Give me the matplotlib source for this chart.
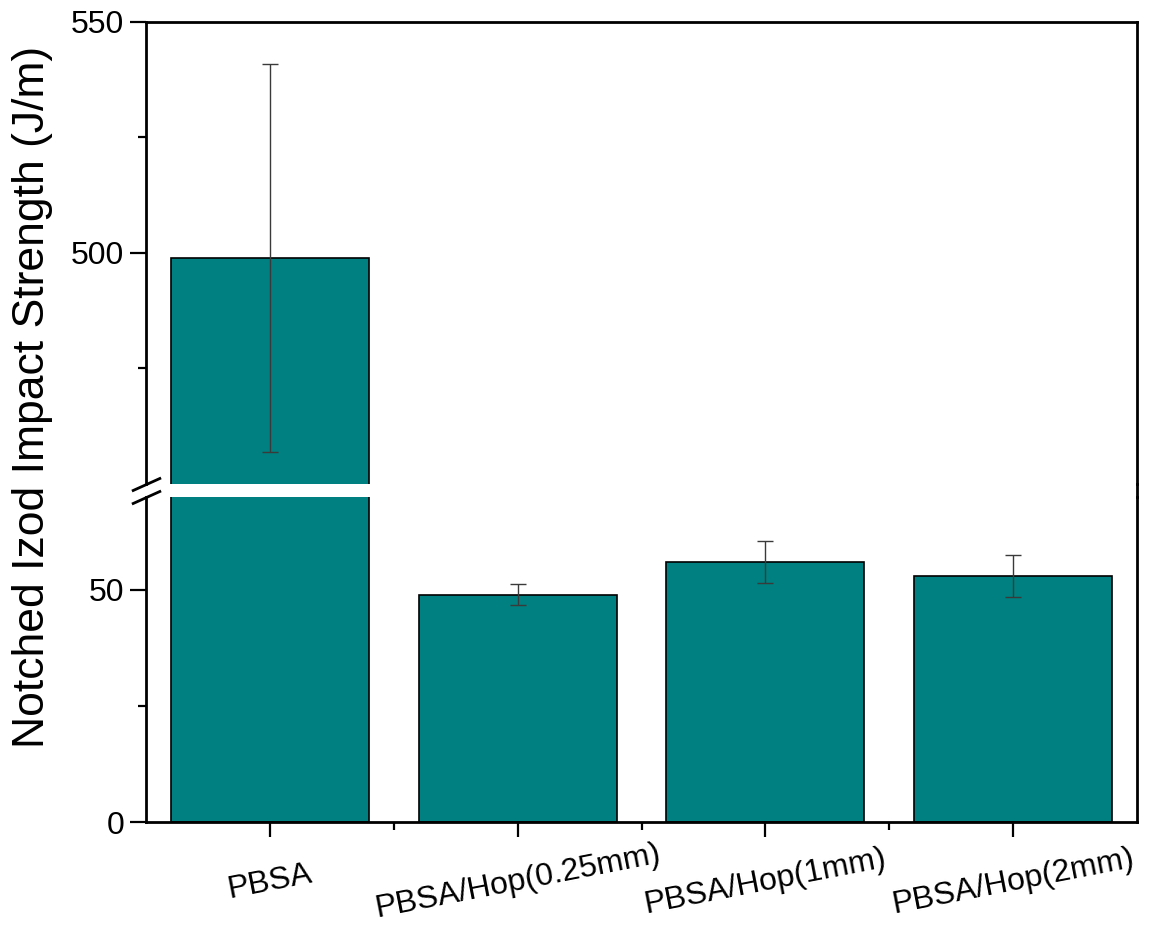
import numpy as np
import matplotlib
matplotlib.use('Agg')
import matplotlib.pyplot as plt
from matplotlib.lines import Line2D

plt.rcParams['font.family'] = ['Liberation Sans', 'DejaVu Sans']

samples = ['PBSA', 'PBSA/Hop(0.25mm)', 'PBSA/Hop(1mm)', 'PBSA/Hop(2mm)']
strength = [499, 49, 56, 53]
strength_err = [42, 2.3, 4.6, 4.5]

bar_color = '#008080'
x = np.arange(len(samples))

fig = plt.figure(figsize=(11.5, 9.25), dpi=100)
ax_top = fig.add_axes([0.12696, 0.47676, 0.86174, 0.49946])
ax_bot = fig.add_axes([0.12696, 0.11135, 0.86174, 0.35135])

for ax in (ax_top, ax_bot):
    ax.bar(x, strength, width=0.8, color=bar_color, edgecolor='black', linewidth=1.2, zorder=2)
    ax.errorbar(x, strength, yerr=strength_err, fmt='none', ecolor='#3a3a3a',
                elinewidth=1.0, capsize=6, capthick=1.0, zorder=3)
    ax.set_xlim(-0.5, 3.5)
    for s in ax.spines.values():
        s.set_linewidth(2.0)
    ax.tick_params(axis='y', which='major', direction='out', length=11.5, width=1.6,
                   labelsize=23, pad=4)
    ax.tick_params(axis='y', which='minor', direction='out', length=6, width=1.6)
    ax.tick_params(right=False, top=False)

# upper segment
ax_top.set_ylim(450, 550)
ax_top.set_yticks([500, 550])
ax_top.set_yticks([475, 525], minor=True)
ax_top.spines['bottom'].set_visible(False)
ax_top.set_xticks([])
ax_top.tick_params(axis='x', which='both', bottom=False, labelbottom=False)

# lower segment
ax_bot.set_ylim(0, 70)
ax_bot.set_yticks([0, 50])
ax_bot.set_yticks([25], minor=True)
ax_bot.spines['top'].set_visible(False)
ax_bot.set_xticks(x)
ax_bot.set_xticks(x[:-1] + 0.5, minor=True)
ax_bot.set_xticklabels(samples)
ax_bot.tick_params(axis='x', which='major', direction='out', length=11, width=1.6,
                   labelsize=23, pad=32)
ax_bot.tick_params(axis='x', which='minor', direction='out', length=6, width=1.6)
for lbl in ax_bot.get_xticklabels():
    lbl.set_rotation(11)
    lbl.set_rotation_mode('anchor')
    lbl.set_ha('center')
    lbl.set_va('center')

# break marks on the left spine
mk = dict(marker=[(-1, -0.45), (1, 0.45)], markersize=21, linestyle='none',
          color='black', mec='black', mew=2.0, clip_on=False)
ax_top.plot([0], [0], transform=ax_top.transAxes, **mk)
ax_bot.plot([0], [1], transform=ax_bot.transAxes, **mk)

# right spine runs through the gap
xr = 0.12696 + 0.86174
fig.add_artist(Line2D([xr, xr], [0.11135 + 0.35135, 0.47676], transform=fig.transFigure,
                      color='black', linewidth=2.0))

fig.text(33 / 1150, 1 - 397 / 925, 'Notched Izod Impact Strength (J/m)',
         rotation=90, ha='center', va='center', fontsize=32)

fig.savefig('out.png', dpi=100, facecolor='white')
